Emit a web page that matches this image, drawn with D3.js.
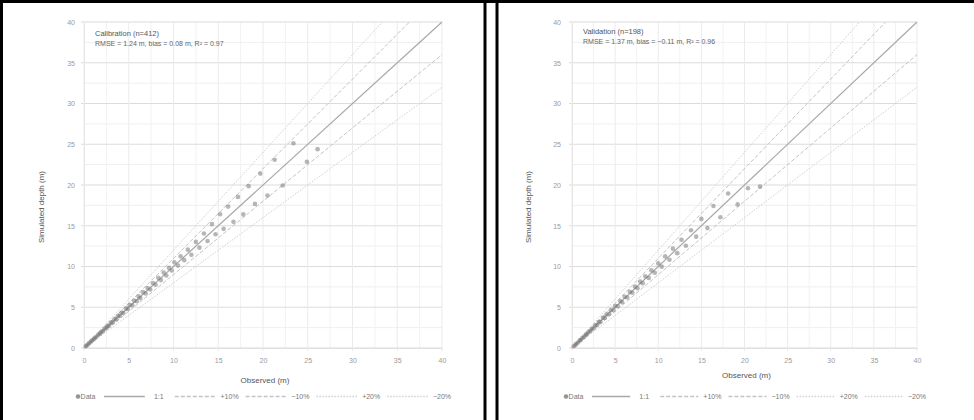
<!DOCTYPE html>
<html><head><meta charset="utf-8">
<script src="https://cdn.jsdelivr.net/npm/d3@7"></script>
<style>body{margin:0;background:#fff}svg{display:block}text{font-family:"Liberation Sans",Arial,sans-serif}</style>
</head><body><svg id="c" width="974" height="420"></svg>
<script>
// ---- data ----
const xTicks = [0, 5, 10, 15, 20, 25, 30, 35, 40];
const yTicks = [0, 5, 10, 15, 20, 25, 30, 35, 40];
const legendLabels = ["Data", "1:1", "+10%", "\u221210%", "+20%", "\u221220%"];
const refSlopes = [1, 1.1, 0.9, 1.2, 0.8];
const panelTitles = ["Calibration (n=412)", "Validation (n=198)"];
const panelStats = ["RMSE = 1.24 m, bias = 0.08 m, R\u00b2 = 0.97", "RMSE = 1.37 m, bias = \u22120.11 m, R\u00b2 = 0.96"];
const xTitle = "Observed (m)";
const yTitle = "Simulated depth (m)";

const calX = [0.2,0.3,0.5,0.6,0.8,0.9,1.1,1.2,1.4,1.6,1.8,1.9,2.1,2.3,2.5,2.6,2.8,3.0,3.2,3.4,3.6,3.8,4.0,4.2,4.4,4.7,4.9,5.1,5.4,5.6,5.9,6.1,6.3,6.6,6.9,7.1,7.4,7.7,8.0,8.3,8.6,8.9,9.2,9.5,9.8,10.1,10.5,10.8,11.2,11.6,12.0,12.5,12.9,13.4,13.8,14.3,14.7,15.2,15.6,16.1,16.7,17.2,17.8,18.4,19.1,19.7,20.5,21.3,22.2,23.4,24.9,26.1];
const calY = [0.21,0.32,0.48,0.63,0.79,0.94,1.08,1.25,1.37,1.65,1.76,1.97,2.05,2.38,2.44,2.69,2.74,3.11,3.14,3.52,3.51,3.94,3.93,4.36,4.30,4.86,4.78,5.29,5.25,5.81,5.74,6.33,6.12,6.85,6.69,7.37,7.18,7.98,7.76,8.61,8.33,9.25,8.90,9.83,9.51,10.52,10.11,11.26,10.78,12.07,11.45,13.02,12.31,14.05,13.12,15.20,13.95,16.41,14.62,17.35,15.48,18.54,16.39,19.86,17.68,21.40,18.72,23.10,19.94,25.12,22.86,24.4];
const valX = [0.2,0.4,0.5,0.7,0.9,1.0,1.2,1.4,1.6,1.7,1.9,2.1,2.3,2.5,2.7,2.9,3.1,3.3,3.6,3.8,4.0,4.3,4.5,4.8,5.0,5.3,5.6,5.8,6.1,6.4,6.7,7.0,7.3,7.6,7.9,8.2,8.5,8.9,9.2,9.6,10.0,10.4,10.8,11.3,11.7,12.2,12.7,13.2,13.8,14.4,15.0,15.7,16.4,17.2,18.1,19.2,20.4,21.8];
const valY = [0.21,0.38,0.53,0.68,0.93,0.98,1.24,1.36,1.65,1.66,1.96,2.05,2.36,2.43,2.78,2.82,3.18,3.22,3.70,3.69,4.11,4.18,4.63,4.65,5.14,5.14,5.77,5.62,6.29,6.19,6.91,6.77,7.53,7.34,8.15,7.93,8.79,8.58,9.53,9.24,10.38,9.98,11.24,10.82,12.19,11.64,13.28,12.55,14.45,13.66,15.84,14.71,17.42,16.05,18.95,17.62,19.6,19.8];

// ---- layout ----
const panels = [
  {x0: 84, x1: 442, y0: 348, y1: 22, yLabX: 75, yTitleX: 44, xTitleY: 383, legY: 399, annX: 95, annY: 36, cx: calX, cy: calY},
  {x0: 572, x1: 917, y0: 348, y1: 22, yLabX: 561, yTitleX: 531, xTitleY: 378, legY: 399, annX: 583, annY: 34, cx: valX, cy: valY}
];

const svg = d3.select("#c");
svg.append("rect").attr("width", 974).attr("height", 420).attr("fill", "#fff");

const lineStyles = [
  {stroke: "#a8a8a8", dash: null, w: 1.2},
  {stroke: "#c4c4c4", dash: "4,2", w: 1},
  {stroke: "#c4c4c4", dash: "4,2", w: 1},
  {stroke: "#d0d0d0", dash: "1.5,1.5", w: 1},
  {stroke: "#d0d0d0", dash: "1.5,1.5", w: 1}
];

panels.forEach((p, i) => {
  const x = d3.scaleLinear().domain([0, 40]).range([p.x0, p.x1]);
  const y = d3.scaleLinear().domain([0, 40]).range([p.y0, p.y1]);
  const g = svg.append("g");
  const minor = d3.range(0, 40.01, 2.5);

  // minor grid
  g.selectAll(".mh").data(minor.filter(v => v % 5 !== 0)).join("line")
    .attr("x1", p.x0).attr("x2", p.x1).attr("y1", d => y(d)).attr("y2", d => y(d))
    .attr("stroke", "#efefef").attr("stroke-width", 1);
  g.selectAll(".mv").data(minor.filter(v => v % 5 !== 0)).join("line")
    .attr("y1", p.y0).attr("y2", p.y1).attr("x1", d => x(d)).attr("x2", d => x(d))
    .attr("stroke", "#f2f2f2").attr("stroke-width", 1);
  // major grid
  g.selectAll(".gh").data(yTicks).join("line")
    .attr("x1", p.x0 - 3).attr("x2", p.x1).attr("y1", d => y(d)).attr("y2", d => y(d))
    .attr("stroke", "#dcdcdc").attr("stroke-width", 1.2);
  g.selectAll(".gv").data(xTicks).join("line")
    .attr("y1", p.y0 + 3).attr("y2", p.y1).attr("x1", d => x(d)).attr("x2", d => x(d))
    .attr("stroke", "#ebebeb").attr("stroke-width", 1);

  // axes via d3
  const ax = g.append("g").attr("transform", `translate(0,${p.y0})`)
    .call(d3.axisBottom(x).tickValues(xTicks).tickSize(0).tickPadding(10));
  ax.select(".domain").attr("stroke", "#e0e0e0");
  ax.selectAll("text").attr("fill", "#9a9a9a").attr("font-size", 7);
  const ay = g.append("g").attr("transform", `translate(${p.x0},0)`)
    .call(d3.axisLeft(y).tickValues(yTicks).tickSize(0).tickPadding(p.x0 - p.yLabX));
  ay.select(".domain").attr("stroke", "#e6e6e6");
  ay.selectAll("text").attr("fill", "#9a9a9a").attr("font-size", 7);

  // reference lines
  refSlopes.forEach((s, k) => {
    const xe = Math.min(40, 40 / s);
    const st = lineStyles[k];
    g.append("line").attr("x1", x(0)).attr("y1", y(0)).attr("x2", x(xe)).attr("y2", y(xe * s))
      .attr("stroke", st.stroke).attr("stroke-width", st.w).attr("stroke-dasharray", st.dash);
  });

  // points
  g.selectAll(".pt").data(d3.zip(p.cx, p.cy)).join("circle")
    .attr("cx", d => x(d[0])).attr("cy", d => y(d[1])).attr("r", 2.3)
    .attr("fill", "#7a7a7a").attr("fill-opacity", 0.55);

  // annotation
  g.append("text").attr("x", p.annX).attr("y", p.annY).attr("font-size", 7.5).attr("fill", "#555").text(panelTitles[i]);
  g.append("text").attr("x", p.annX).attr("y", p.annY + 10).attr("font-size", 7).attr("fill", "#666").text(panelStats[i]);

  // titles
  g.append("text").attr("x", (p.x0 + p.x1) / 2 + 2).attr("y", p.xTitleY).attr("text-anchor", "middle")
    .attr("font-size", 8).attr("fill", "#555").text(xTitle);
  g.append("text").attr("transform", `translate(${p.yTitleX},${(p.y0 + p.y1) / 2 + 22}) rotate(-90)`)
    .attr("text-anchor", "middle").attr("font-size", 8).attr("fill", "#555").text(yTitle);

  // legend, items spread over the plot width
  const lx = d3.scalePoint().domain(legendLabels).range([p.x0 + 4, p.x1]);
  legendLabels.forEach((lab, k) => {
    const cxL = lx(lab);
    if (k === 0) {
      g.append("circle").attr("cx", cxL - 10).attr("cy", p.legY - 2.5).attr("r", 2.3).attr("fill", "#7a7a7a").attr("fill-opacity", 0.8);
    } else {
      const st = lineStyles[k - 1];
      const prev = lx(legendLabels[k - 1]);
      g.append("line").attr("x1", prev + 16).attr("x2", cxL - 14).attr("y1", p.legY - 2.5).attr("y2", p.legY - 2.5)
        .attr("stroke", st.stroke).attr("stroke-width", 1.5).attr("stroke-dasharray", st.dash);
    }
    g.append("text").attr("x", cxL).attr("y", p.legY).attr("text-anchor", "middle")
      .attr("font-size", 7).attr("fill", "#777").text(lab);
  });
});

// frame lines
const frame = [[0, 1.5, 974, 1.5], [1.5, 0, 1.5, 420], [485, 0, 485, 420], [497, 0, 497, 420]];
svg.selectAll(".fr").data(frame).join("line")
  .attr("x1", d => d[0]).attr("y1", d => d[1]).attr("x2", d => d[2]).attr("y2", d => d[3])
  .attr("stroke", "#000").attr("stroke-width", 3);
</script></body></html>
